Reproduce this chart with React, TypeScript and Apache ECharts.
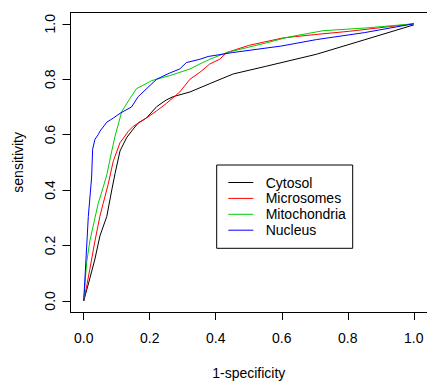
import React, { useEffect, useRef } from "react";
import * as echarts from "echarts";

const seriesNames = ["Cytosol", "Microsomes", "Mitochondria", "Nucleus"];
const seriesColors = ["#000000", "#FF0000", "#00CD00", "#0000FF"];
const tickValues = [0, 0.2, 0.4, 0.6, 0.8, 1.0];

const cytosolX = [0, 0.015, 0.034, 0.049, 0.07, 0.085, 0.095, 0.11, 0.13, 0.15, 0.165, 0.19, 0.221, 0.25, 0.271, 0.322, 0.382, 0.453, 0.55, 0.705, 0.85, 1.0];
const cytosolY = [0, 0.065, 0.151, 0.234, 0.305, 0.4, 0.46, 0.541, 0.589, 0.62, 0.642, 0.66, 0.701, 0.725, 0.737, 0.754, 0.784, 0.819, 0.846, 0.89, 0.942, 0.996];

const microX = [0, 0.01, 0.019, 0.034, 0.049, 0.059, 0.074, 0.085, 0.09, 0.11, 0.125, 0.135, 0.15, 0.19, 0.22, 0.251, 0.291, 0.322, 0.352, 0.382, 0.412, 0.433, 0.5, 0.604, 0.7, 0.805, 1.0];
const microY = [0, 0.06, 0.117, 0.216, 0.305, 0.352, 0.42, 0.48, 0.506, 0.571, 0.595, 0.612, 0.63, 0.66, 0.685, 0.713, 0.754, 0.8, 0.825, 0.855, 0.872, 0.896, 0.922, 0.949, 0.961, 0.973, 1.0];

const mitoX = [0, 0.009, 0.019, 0.044, 0.059, 0.07, 0.085, 0.095, 0.11, 0.115, 0.14, 0.16, 0.18, 0.206, 0.261, 0.322, 0.352, 0.382, 0.433, 0.553, 0.62, 0.725, 0.856, 1.0];
const mitoY = [0, 0.14, 0.219, 0.352, 0.41, 0.455, 0.541, 0.595, 0.66, 0.683, 0.73, 0.766, 0.778, 0.795, 0.813, 0.837, 0.855, 0.872, 0.896, 0.931, 0.952, 0.975, 0.985, 1.0];

const nucleusX = [0, 0.014, 0.024, 0.027, 0.034, 0.044, 0.049, 0.07, 0.09, 0.11, 0.145, 0.165, 0.221, 0.26, 0.291, 0.311, 0.352, 0.377, 0.45, 0.6, 0.705, 0.85, 1.0];
const nucleusY = [0, 0.305, 0.447, 0.547, 0.583, 0.6, 0.612, 0.645, 0.66, 0.677, 0.7, 0.737, 0.8, 0.822, 0.837, 0.86, 0.872, 0.882, 0.896, 0.92, 0.943, 0.968, 1.0];

const seriesX = [cytosolX, microX, mitoX, nucleusX];
const seriesY = [cytosolY, microY, mitoY, nucleusY];

const FONT = "'Liberation Sans', Arial, Helvetica, sans-serif";

export default function App() {
  const ref = useRef<HTMLDivElement>(null);
  useEffect(() => {
    if (!ref.current) return;
    const chart = echarts.init(ref.current, null, { renderer: "svg" });
    const legendLeft = 216.7;
    const legendTop = 165;
    const legendRowY = [182.5, 198.4, 214.3, 230.2];
    const graphics: any[] = [
      {
        type: "rect",
        shape: { x: legendLeft, y: legendTop, width: 136, height: 83.3 },
        style: { fill: "#ffffff", stroke: "#000000", lineWidth: 1 },
        z: 10,
      },
    ];
    seriesNames.forEach((name, i) => {
      graphics.push({
        type: "line",
        shape: { x1: 228.3, y1: legendRowY[i], x2: 253.3, y2: legendRowY[i] },
        style: { stroke: seriesColors[i], lineWidth: 1 },
        z: 11,
      });
      graphics.push({
        type: "text",
        x: 265.7,
        y: legendRowY[i],
        style: {
          text: name,
          fill: "#000000",
          font: `14px ${FONT}`,
          verticalAlign: "middle",
          align: "left",
        },
        z: 11,
      });
    });
    const axisBase = {
      type: "value",
      min: -0.04,
      max: 1.04,
      splitLine: { show: false },
    };
    chart.setOption({
      animation: false,
      backgroundColor: "#ffffff",
      grid: {
        left: 70.5,
        top: 12.7,
        width: 357,
        height: 304.6,
        show: false,
        containLabel: false,
      },
      xAxis: [
        {
          ...axisBase,
          position: "bottom",
          name: "1-specificity",
          nameLocation: "middle",
          nameGap: 54,
          nameTextStyle: { fontSize: 14, color: "#000", fontFamily: FONT },
          axisLine: { show: true, onZero: false, lineStyle: { color: "#000", width: 1 } },
          axisTick: {
            show: true,
            inside: false,
            length: 8,
            lineStyle: { color: "#000" },
            customValues: tickValues,
          },
          axisLabel: {
            fontSize: 14,
            color: "#000",
            fontFamily: FONT,
            margin: 19,
            customValues: tickValues,
            formatter: (v: number) => v.toFixed(1),
          },
        },
        {
          ...axisBase,
          position: "top",
          axisLine: { show: true, onZero: false, lineStyle: { color: "#000", width: 1 } },
          axisTick: { show: false },
          axisLabel: { show: false },
        },
      ],
      yAxis: {
        ...axisBase,
        position: "left",
        name: "sensitivity",
        nameLocation: "middle",
        nameGap: 46,
        nameRotate: 90,
        nameTextStyle: { fontSize: 14, color: "#000", fontFamily: FONT },
        axisLine: { show: true, onZero: false, lineStyle: { color: "#000", width: 1 } },
        axisTick: {
          show: true,
          inside: false,
          length: 8,
          lineStyle: { color: "#000" },
          customValues: tickValues,
        },
        axisLabel: {
          fontSize: 14,
          color: "#000",
          fontFamily: FONT,
          margin: 14,
          rotate: 90,
          customValues: tickValues,
          formatter: (v: number) => v.toFixed(1),
        },
      },
      series: seriesNames.map((name, i) => ({
        name,
        type: "line",
        xAxisIndex: 0,
        showSymbol: false,
        symbol: "none",
        lineStyle: { color: seriesColors[i], width: 1 },
        data: seriesX[i].map((x, j) => [x, seriesY[i][j]]),
      })),
      graphic: graphics,
    });
    return () => chart.dispose();
  }, []);
  return (
    <div
      ref={ref}
      style={{ position: "absolute", left: 0, top: 0, width: 427, height: 385 }}
    />
  );
}
